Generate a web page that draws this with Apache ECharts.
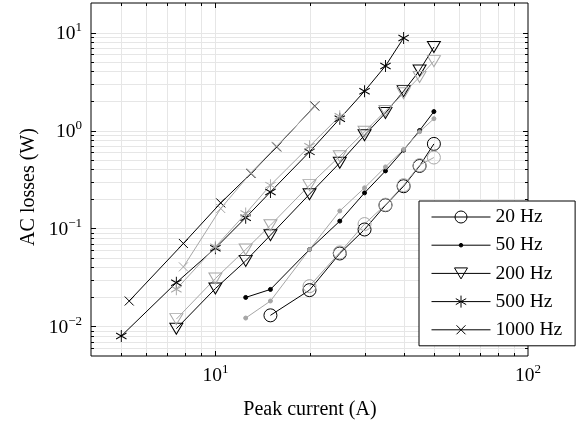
<!DOCTYPE html>
<html>
<head>
<meta charset="utf-8">
<script src="https://cdn.jsdelivr.net/npm/echarts@6.0.0/dist/echarts.min.js"></script>
<style>
  html, body { margin: 0; padding: 0; background: #fff; }
  #chart { width: 584px; height: 425px; }
</style>
</head>
<body>
<div id="chart"></div>
<script>
// ---- Measured AC losses (W) versus peak current (A) ----
// Black curves: main data set; grey curves: companion data set.
const current20 = [15, 20, 25, 30, 35, 40, 45, 50];
const loss20 = [0.013, 0.0235, 0.0556, 0.0977, 0.173, 0.27, 0.435, 0.73];
const current20b = [20, 25, 30, 35, 40, 45, 50];
const loss20b = [0.0258, 0.057, 0.111, 0.175, 0.277, 0.443, 0.53];

const current50 = [12.5, 15, 20, 25, 30, 35, 40, 45, 50];
const loss50 = [0.0198, 0.0239, 0.061, 0.119, 0.231, 0.387, 0.63, 1.0, 1.56];
const loss50b = [0.0122, 0.0182, 0.061, 0.151, 0.26, 0.425, 0.64, 0.97, 1.32];

const current200 = [7.5, 10, 12.5, 15, 20, 25, 30, 35, 40, 45, 50];
const loss200 = [0.0095, 0.0244, 0.0467, 0.0855, 0.224, 0.468, 0.895, 1.51, 2.52, 4.1, 7.1];
const loss200b = [0.0119, 0.0309, 0.061, 0.108, 0.277, 0.547, 0.97, 1.58, 2.4, 3.52, 5.1];

const current500 = [5, 7.5, 10, 12.5, 15, 20, 25, 30, 35, 40];
const loss500 = [0.008, 0.028, 0.063, 0.129, 0.236, 0.605, 1.32, 2.52, 4.56, 8.8];
const current500b = [7.5, 10, 12.5, 15, 20, 25];
const loss500b = [0.024, 0.065, 0.142, 0.277, 0.69, 1.40];

const current1000 = [5.3, 7.9, 10.4, 13.0, 15.7, 20.8];
const loss1000 = [0.0182, 0.0703, 0.1825, 0.364, 0.68, 1.78];
const current1000b = [7.9, 10.4, 13.0, 15.7, 20.8];
const loss1000b = [0.0406, 0.16, 0.37, 0.69, 1.76];

const legendNames = ['20 Hz', '50 Hz', '200 Hz', '500 Hz', '1000 Hz'];

// Axis ranges and grid/tick positions (log decades)
const xRange = [4, 100];
const yRange = [0.005, 20];
const xGridValues = [5, 6, 7, 8, 9, 10, 20, 30, 40, 50, 60, 70, 80, 90];
const yGridValues = [0.006, 0.007, 0.008, 0.009, 0.01, 0.02, 0.03, 0.04, 0.05, 0.06, 0.07, 0.08, 0.09,
  0.1, 0.2, 0.3, 0.4, 0.5, 0.6, 0.7, 0.8, 0.9, 1, 2, 3, 4, 5, 6, 7, 8, 9, 10];

// ---- styling ----
const FONT = 'Liberation Serif';
const BLACK = '#000';
const GREY = '#a6a6a6';
const GRIDC = '#e6e6e6';

const MARK = {
  circle: { symbol: 'circle', symbolSize: 13, filled: false },
  dot: { symbol: 'circle', symbolSize: 4, filled: true },
  triangle: { symbol: 'triangle', symbolSize: [13, 11], symbolRotate: 180, filled: false },
  asterisk: { symbol: 'path://M0,-6L0,6M-5.2,-3L5.2,3M-5.2,3L5.2,-3', symbolSize: [10.4, 12], filled: false },
  cross: { symbol: 'path://M0,0L1,1M0,1L1,0', symbolSize: 9, filled: false }
};

// legend icons: a line through the marker, drawn in a 59 x 14 box
const LEGEND_ICON = {
  circle: 'path://M0,0M59,14M0,7L59,7M23.5,7A6,6,0,1,0,35.5,7A6,6,0,1,0,23.5,7Z',
  dot: 'path://M0,0M59,14M0,7L59,7M27.7,7A1.8,1.8,0,1,0,31.3,7A1.8,1.8,0,1,0,27.7,7Z',
  triangle: 'path://M0,0M59,14M0,7L59,7M23,1.5L36,1.5L29.5,12.5Z',
  asterisk: 'path://M0,0M59,14M0,7L59,7M29.5,1L29.5,13M24.3,4L34.7,10M24.3,10L34.7,4',
  cross: 'path://M0,0M59,14M0,7L59,7M25,2.5L34,11.5M25,11.5L34,2.5'
};
const markKinds = ['circle', 'dot', 'triangle', 'asterisk', 'cross'];

function pairs(xs, ys) { return xs.map((x, i) => [x, ys[i]]); }

function lineSeries(name, xs, ys, kind, color) {
  const m = MARK[kind];
  return {
    name: name,
    type: 'line',
    data: pairs(xs, ys),
    symbol: m.symbol,
    symbolSize: m.symbolSize,
    symbolRotate: m.symbolRotate || 0,
    showAllSymbol: true,
    animation: false,
    lineStyle: { color: color, width: 1 },
    itemStyle: {
      color: m.filled ? color : 'rgba(0,0,0,0)',
      borderColor: color,
      borderWidth: 1,
      opacity: 1
    },
    emphasis: { disabled: true },
    z: 3
  };
}

function isDecade(v) {
  const e = Math.log10(v);
  return Math.abs(e - Math.round(e)) < 1e-6;
}
function powerLabel(v) {
  if (!isDecade(v)) return '';
  const e = Math.round(Math.log10(v));
  return '{b|10}{s|' + (e < 0 ? '\u2212' + (-e) : e) + '}';
}
const richLabel = {
  b: { fontFamily: FONT, fontSize: 19.5, color: BLACK, lineHeight: 23, verticalAlign: 'bottom' },
  s: { fontFamily: FONT, fontSize: 13, color: BLACK, lineHeight: 13, verticalAlign: 'top' }
};

// grid lines plus inward ticks on all four sides, positioned by the axes
function gridSeries(values, dir) {
  return {
    type: 'custom',
    silent: true,
    animation: false,
    clip: false,
    z: 1,
    data: values.map(v => dir === 'x' ? [v, 1] : [10, v]),
    renderItem: function (params, api) {
      const cs = params.coordSys;
      const v = api.value(dir === 'x' ? 0 : 1);
      const t = isDecade(v) ? 5 : 3;
      const kids = [];
      if (dir === 'x') {
        const px = Math.round(api.coord([v, 1])[0]) + 0.5;
        const y0 = cs.y, y1 = cs.y + cs.height;
        kids.push({ type: 'line', shape: { x1: px, y1: y0, x2: px, y2: y1 }, style: { stroke: GRIDC, lineWidth: 1 } });
        kids.push({ type: 'line', shape: { x1: px, y1: y1 - t, x2: px, y2: y1 }, style: { stroke: BLACK, lineWidth: 1 } });
        kids.push({ type: 'line', shape: { x1: px, y1: y0, x2: px, y2: y0 + t }, style: { stroke: BLACK, lineWidth: 1 } });
      } else {
        const py = Math.round(api.coord([10, v])[1]) + 0.5;
        const x0 = cs.x, x1 = cs.x + cs.width;
        kids.push({ type: 'line', shape: { x1: x0, y1: py, x2: x1, y2: py }, style: { stroke: GRIDC, lineWidth: 1 } });
        kids.push({ type: 'line', shape: { x1: x0, y1: py, x2: x0 + t, y2: py }, style: { stroke: BLACK, lineWidth: 1 } });
        kids.push({ type: 'line', shape: { x1: x1 - t, y1: py, x2: x1, y2: py }, style: { stroke: BLACK, lineWidth: 1 } });
      }
      return { type: 'group', children: kids };
    }
  };
}

const chart = echarts.init(document.getElementById('chart'), null, { renderer: 'canvas' });

const option = {
  animation: false,
  backgroundColor: '#fff',
  grid: {
    left: 91, right: 56, top: 3, bottom: 69,
    show: true, borderColor: BLACK, borderWidth: 1, backgroundColor: 'transparent'
  },
  xAxis: {
    type: 'log', logBase: 10, min: xRange[0], max: xRange[1],
    axisLine: { show: false }, axisTick: { show: false },
    splitLine: { show: false }, minorTick: { show: false }, minorSplitLine: { show: false },
    axisLabel: {
      formatter: powerLabel, rich: richLabel, margin: 7,
      showMinLabel: true, showMaxLabel: true, hideOverlap: false
    }
  },
  yAxis: {
    type: 'log', logBase: 10, min: yRange[0], max: yRange[1],
    axisLine: { show: false }, axisTick: { show: false },
    splitLine: { show: false }, minorTick: { show: false }, minorSplitLine: { show: false },
    axisLabel: { formatter: powerLabel, rich: richLabel, margin: 9, hideOverlap: false }
  },
  legend: {
    orient: 'vertical',
    left: 419, top: 201,
    padding: [6, 13, 6, 12],
    itemWidth: 59, itemHeight: 14, itemGap: 8.2,
    backgroundColor: '#fff', borderColor: BLACK, borderWidth: 1, borderRadius: 0,
    selectedMode: false,
    textStyle: { fontFamily: FONT, fontSize: 19.5, color: BLACK },
    data: legendNames.map((n, i) => ({
      name: n,
      icon: LEGEND_ICON[markKinds[i]],
      itemStyle: {
        color: markKinds[i] === 'dot' ? BLACK : 'rgba(0,0,0,0)',
        borderColor: BLACK, borderWidth: 1
      }
    }))
  },
  graphic: [
    {
      type: 'text', x: 310, y: 410, silent: true,
      style: { text: 'Peak current (A)', font: '20px "' + FONT + '"', fill: BLACK, textAlign: 'center', textVerticalAlign: 'middle' }
    },
    {
      type: 'text', x: 29, y: 187, rotation: Math.PI / 2, silent: true,
      style: { text: 'AC losses (W)', font: '20px "' + FONT + '"', fill: BLACK, textAlign: 'center', textVerticalAlign: 'middle' }
    }
  ],
  series: [
    gridSeries(xGridValues, 'x'),
    gridSeries(yGridValues, 'y'),
    lineSeries('20 Hz', current20, loss20, 'circle', BLACK),
    lineSeries('50 Hz', current50, loss50, 'dot', BLACK),
    lineSeries('200 Hz', current200, loss200, 'triangle', BLACK),
    lineSeries('500 Hz', current500, loss500, 'asterisk', BLACK),
    lineSeries('1000 Hz', current1000, loss1000, 'cross', BLACK),
    lineSeries('20 Hz (grey)', current20b, loss20b, 'circle', GREY),
    lineSeries('50 Hz (grey)', current50, loss50b, 'dot', GREY),
    lineSeries('200 Hz (grey)', current200, loss200b, 'triangle', GREY),
    lineSeries('500 Hz (grey)', current500b, loss500b, 'asterisk', GREY),
    lineSeries('1000 Hz (grey)', current1000b, loss1000b, 'cross', GREY)
  ]
};

chart.setOption(option);
</script>
</body>
</html>
